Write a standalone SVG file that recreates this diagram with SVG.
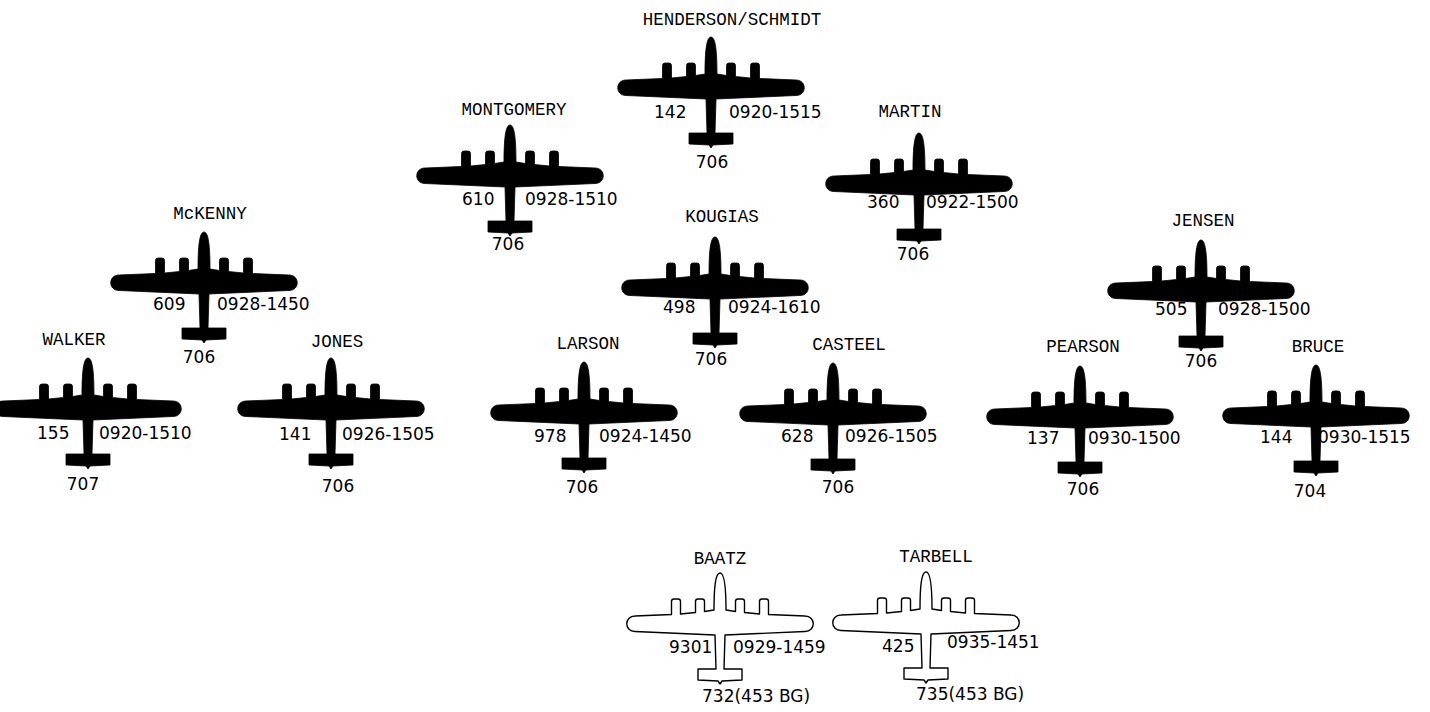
<svg xmlns="http://www.w3.org/2000/svg" xmlns:xlink="http://www.w3.org/1999/xlink" width="1430" height="712" viewBox="0 0 1430 712">
<style>
.nm{font-family:"Liberation Mono","Courier New",monospace;font-size:17.5px;fill:#000;text-anchor:middle}
.nu{font-family:"DejaVu Sans","Liberation Sans",sans-serif;font-size:17px;fill:#000}
.mid{text-anchor:middle}
.solid{fill:#000;stroke:#000;stroke-width:0.8;stroke-linejoin:round}
.hollow{fill:#fff;stroke:#000;stroke-width:1.4;stroke-linejoin:round}
</style>
<defs>
<path id="plane" d="M0,0 C4.5,0 6,14 6,37 L15.5,38.5 L15.5,28.5 Q15.5,26 18,26 L22,26 Q24.5,26 24.5,28.5 L24.5,39.5 L39.5,41 L39.5,28.5 Q39.5,26 42,26 L46,26 Q48.5,26 48.5,28.5 L48.5,41.5 L85,43 C96,43 96,58.5 85,58.5 L5,62 L4,96 L22,96 L22,107 L2,108 L0,111 L-2,108 L-22,107 L-22,96 L-4,96 L-5,62 L-85,58.5 C-96,58.5 -96,43 -85,43 L-48.5,41.5 L-48.5,28.5 Q-48.5,26 -46,26 L-42,26 Q-39.5,26 -39.5,28.5 L-39.5,41 L-24.5,39.5 L-24.5,28.5 Q-24.5,26 -22,26 L-18,26 Q-15.5,26 -15.5,28.5 L-15.5,38.5 L-6,37 C-6,14 -4.5,0 0,0 Z"/>
</defs>
<rect width="1430" height="712" fill="#fff"/>
<g id="connectors"></g>

<g id="henderson">
<use xlink:href="#plane" href="#plane" class="solid" transform="translate(711,37)"/>
<text class="nm" x="732" y="25">HENDERSON/SCHMIDT</text>
<text class="nu" x="654" y="118">142</text>
<text class="nu" x="729" y="118">0920-1515</text>
<text class="nu mid" x="712" y="168">706</text>
</g>

<g id="montgomery">
<use xlink:href="#plane" href="#plane" class="solid" transform="translate(510,125)"/>
<text class="nm" x="514" y="115">MONTGOMERY</text>
<text class="nu" x="462" y="205">610</text>
<text class="nu" x="525" y="205">0928-1510</text>
<text class="nu mid" x="508" y="250">706</text>
</g>

<g id="martin">
<use xlink:href="#plane" href="#plane" class="solid" transform="translate(919,133)"/>
<text class="nm" x="910" y="117">MARTIN</text>
<text class="nu" x="867" y="208">360</text>
<text class="nu" x="926" y="208">0922-1500</text>
<text class="nu mid" x="913" y="260">706</text>
</g>

<g id="kougias">
<use xlink:href="#plane" href="#plane" class="solid" transform="translate(715,237)"/>
<text class="nm" x="722" y="222">KOUGIAS</text>
<text class="nu" x="663" y="313">498</text>
<text class="nu" x="728" y="313">0924-1610</text>
<text class="nu mid" x="711" y="365">706</text>
</g>

<g id="mckenny">
<use xlink:href="#plane" href="#plane" class="solid" transform="translate(204,232)"/>
<text class="nm" x="210" y="219">McKENNY</text>
<text class="nu" x="153" y="310">609</text>
<text class="nu" x="217" y="310">0928-1450</text>
<text class="nu mid" x="199" y="363">706</text>
</g>

<g id="walker">
<use xlink:href="#plane" href="#plane" class="solid" transform="translate(88,358)"/>
<text class="nm" x="74" y="345">WALKER</text>
<text class="nu" x="37" y="439">155</text>
<text class="nu" x="99" y="439">0920-1510</text>
<text class="nu mid" x="83" y="490">707</text>
</g>

<g id="jones">
<use xlink:href="#plane" href="#plane" class="solid" transform="translate(331,358)"/>
<text class="nm" x="337" y="347">JONES</text>
<text class="nu" x="279" y="440">141</text>
<text class="nu" x="342" y="440">0926-1505</text>
<text class="nu mid" x="338" y="492">706</text>
</g>

<g id="larson">
<use xlink:href="#plane" href="#plane" class="solid" transform="translate(584,362)"/>
<text class="nm" x="588" y="349">LARSON</text>
<text class="nu" x="534" y="442">978</text>
<text class="nu" x="599" y="442">0924-1450</text>
<text class="nu mid" x="582" y="493">706</text>
</g>

<g id="casteel">
<use xlink:href="#plane" href="#plane" class="solid" transform="translate(833,363)"/>
<text class="nm" x="849" y="350">CASTEEL</text>
<text class="nu" x="781" y="442">628</text>
<text class="nu" x="845" y="442">0926-1505</text>
<text class="nu mid" x="838" y="493">706</text>
</g>

<g id="pearson">
<use xlink:href="#plane" href="#plane" class="solid" transform="translate(1080,366)"/>
<text class="nm" x="1083" y="352">PEARSON</text>
<text class="nu" x="1027" y="444">137</text>
<text class="nu" x="1088" y="444">0930-1500</text>
<text class="nu mid" x="1083" y="495">706</text>
</g>

<g id="jensen">
<use xlink:href="#plane" href="#plane" class="solid" transform="translate(1201,240)"/>
<text class="nm" x="1203" y="226">JENSEN</text>
<text class="nu" x="1155" y="315">505</text>
<text class="nu" x="1218" y="315">0928-1500</text>
<text class="nu mid" x="1201" y="367">706</text>
</g>

<g id="bruce">
<use xlink:href="#plane" href="#plane" class="solid" transform="translate(1316,365)"/>
<text class="nm" x="1318" y="352">BRUCE</text>
<text class="nu" x="1260" y="443">144</text>
<text class="nu" x="1318" y="443">0930-1515</text>
<text class="nu mid" x="1310" y="497">704</text>
</g>

<g id="baatz">
<use xlink:href="#plane" href="#plane" class="hollow" transform="translate(720,573)"/>
<text class="nm" x="720" y="564">BAATZ</text>
<text class="nu" x="669" y="653">9301</text>
<text class="nu" x="733" y="653">0929-1459</text>
<text class="nu" x="702" y="702">732(453 BG)</text>
</g>

<g id="tarbell">
<use xlink:href="#plane" href="#plane" class="hollow" transform="translate(926,572)"/>
<text class="nm" x="936" y="562">TARBELL</text>
<text class="nu" x="882" y="652">425</text>
<text class="nu" x="947" y="648">0935-1451</text>
<text class="nu" x="916" y="700">735(453 BG)</text>
</g>
</svg>
